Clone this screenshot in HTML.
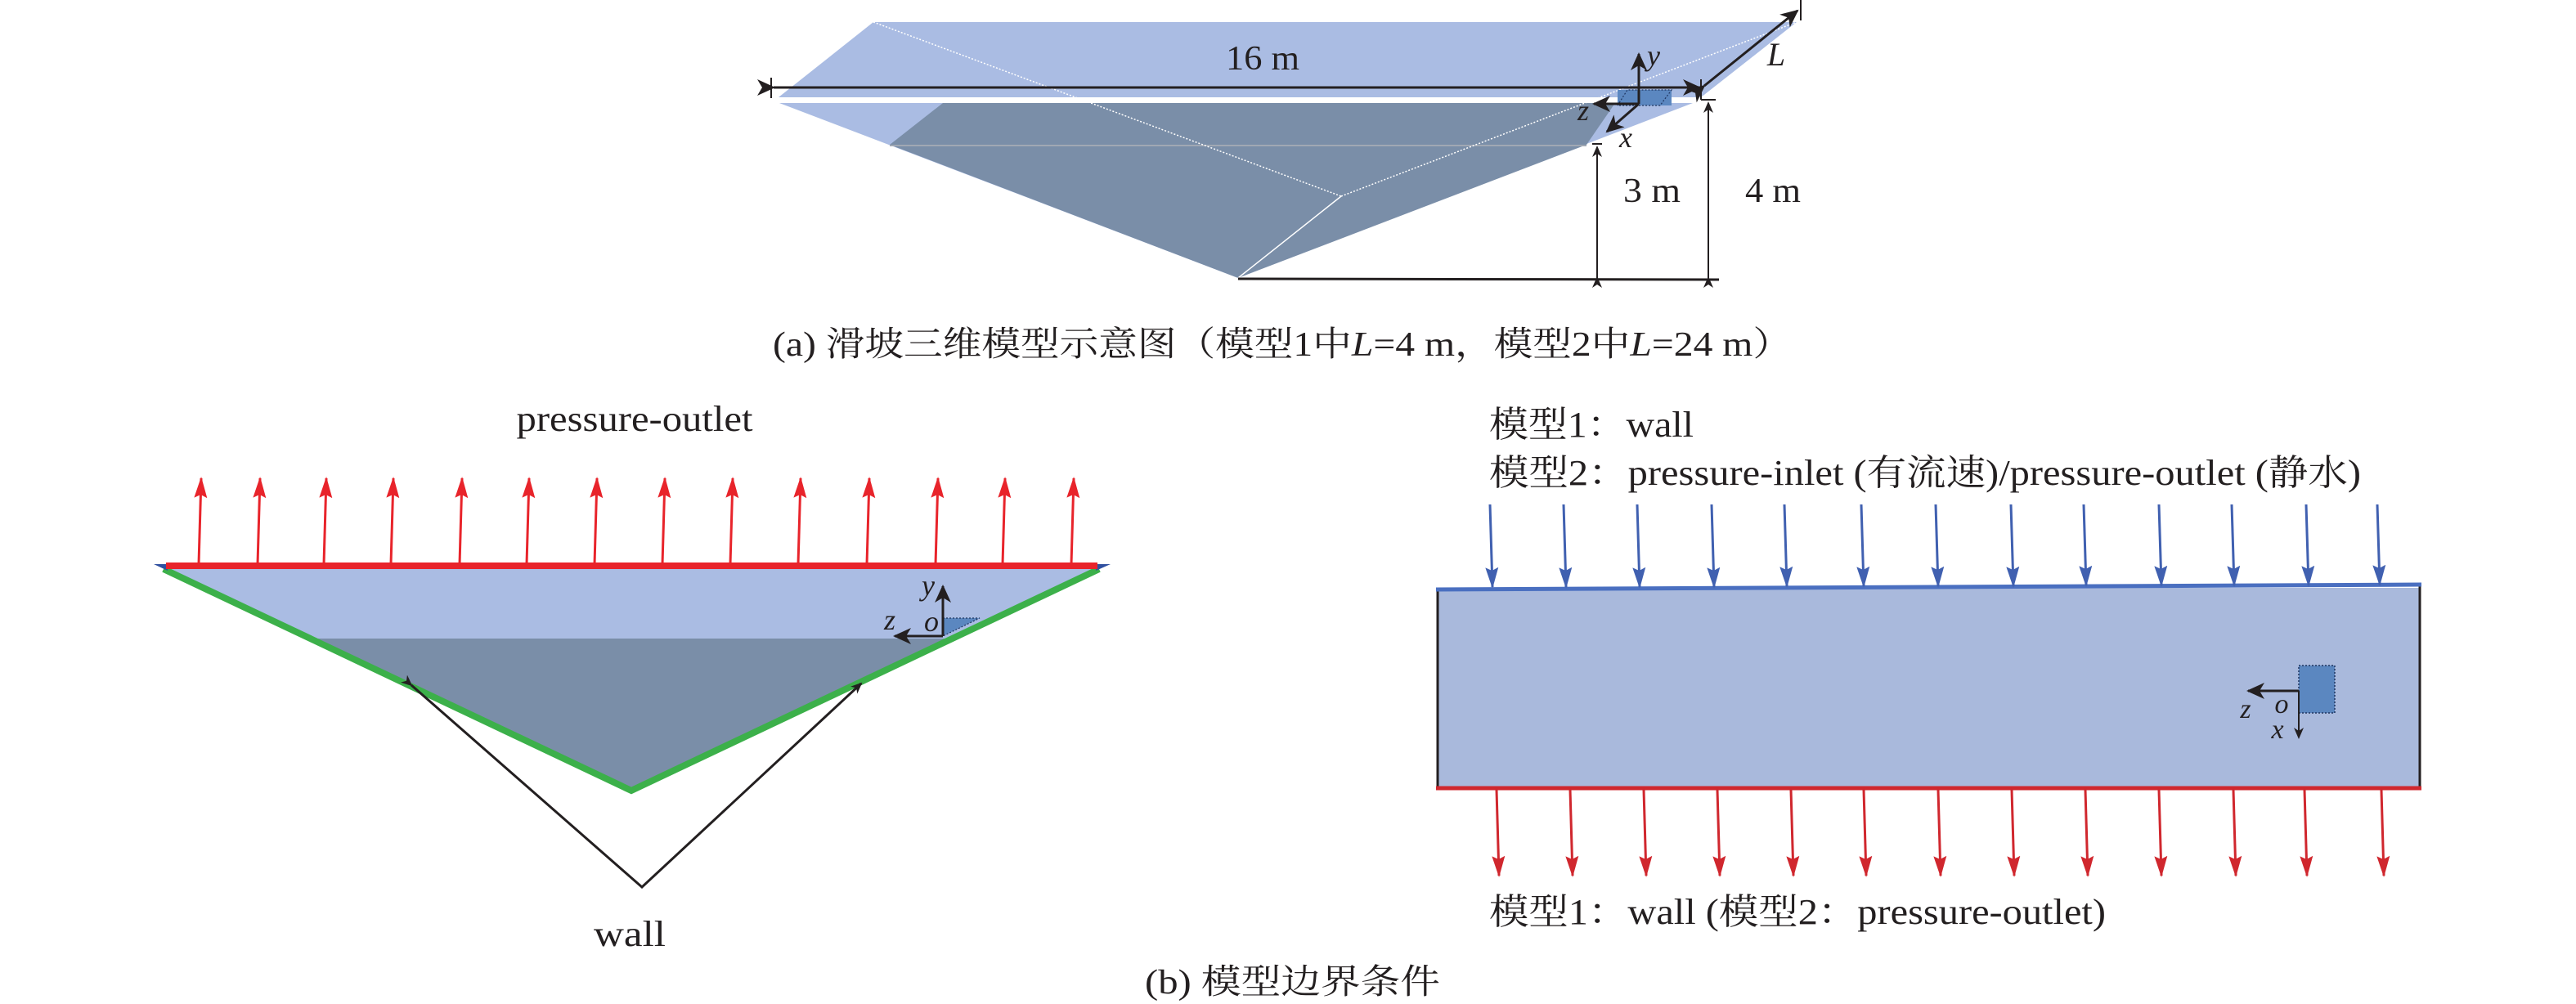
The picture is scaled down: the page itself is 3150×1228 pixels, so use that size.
<!DOCTYPE html>
<html><head><meta charset="utf-8"><style>
html,body{margin:0;padding:0;background:#fff;}
svg{display:block;}
text{font-family:"Liberation Serif","Noto Serif CJK SC","Noto Sans CJK SC",serif;fill:#231f20;}
</style></head><body>
<svg width="3150" height="1228" viewBox="0 0 3150 1228" xmlns="http://www.w3.org/2000/svg">
<defs>
<marker id="ak" markerWidth="14" markerHeight="12" refX="12" refY="6" orient="auto" markerUnits="userSpaceOnUse" viewBox="0 0 14 12"><path d="M0,0 L14,6 L0,12 L4,6 Z" fill="#231f20"/></marker>
<marker id="akb" markerWidth="22" markerHeight="20" refX="20" refY="10" orient="auto" markerUnits="userSpaceOnUse" viewBox="0 0 22 20"><path d="M0,0 L22,10 L0,20 L6,10 Z" fill="#231f20"/></marker>
<marker id="ar" markerWidth="26" markerHeight="16" refX="24" refY="8" orient="auto" markerUnits="userSpaceOnUse" viewBox="0 0 26 16"><path d="M0,0 L26,8 L0,16 L4,8 Z" fill="#e8242b"/></marker>
<marker id="ard" markerWidth="26" markerHeight="16" refX="24" refY="8" orient="auto" markerUnits="userSpaceOnUse" viewBox="0 0 26 16"><path d="M0,0 L26,8 L0,16 L4,8 Z" fill="#d0272e"/></marker>
<marker id="ab" markerWidth="26" markerHeight="16" refX="24" refY="8" orient="auto" markerUnits="userSpaceOnUse" viewBox="0 0 26 16"><path d="M0,0 L26,8 L0,16 L4,8 Z" fill="#4060b0"/></marker>
</defs>

<!-- (a) 3D model -->
<polygon points="1068,27 2197,27 2080,119 952,119" fill="#aabce3"/>
<polygon points="953,126 2070,126 1514,340" fill="#aabce3"/>
<polygon points="1153,126 1975,126 1940,177 1514,340 1088,177" fill="#7a8ea8"/>
<line x1="1088" y1="178" x2="1940" y2="178" stroke="#a0a8b4" stroke-width="2"/>
<line x1="1068" y1="27" x2="1640" y2="240" stroke="#fff" stroke-width="1.5" stroke-dasharray="2,2"/>
<line x1="1640" y1="240" x2="2197" y2="27" stroke="#fff" stroke-width="1.5" stroke-dasharray="2,2"/>
<line x1="1640" y1="240" x2="1514" y2="340" stroke="#fff" stroke-width="1.5"/>
<rect x="1978" y="110" width="66" height="19" fill="#5b87c0"/>
<polyline points="1978,129 1990,110 2044,110 2030,129 1978,129" fill="none" stroke="#1f3560" stroke-width="1.2" stroke-dasharray="2,2"/>
<line x1="943" y1="95" x2="943" y2="120" stroke="#231f20" stroke-width="2"/>
<line x1="946" y1="107" x2="2078" y2="107" stroke="#231f20" stroke-width="3" marker-start="url(#akb)" marker-end="url(#akb)"/>
<line x1="2080" y1="97" x2="2080" y2="122" stroke="#231f20" stroke-width="2"/>
<line x1="2080" y1="122" x2="2098" y2="122" stroke="#231f20" stroke-width="2"/>
<text x="1544" y="85" font-size="42" text-anchor="middle" textLength="90" lengthAdjust="spacingAndGlyphs">16 m</text>
<line x1="2084" y1="105" x2="2198" y2="13" stroke="#231f20" stroke-width="3" marker-start="url(#akb)" marker-end="url(#akb)"/>
<line x1="2202" y1="0" x2="2202" y2="25" stroke="#231f20" stroke-width="2"/>
<text x="2172" y="80" font-size="40" font-style="italic" text-anchor="middle">L</text>
<line x1="2004" y1="127" x2="2004" y2="66" stroke="#231f20" stroke-width="3" marker-end="url(#akb)"/>
<line x1="2004" y1="127" x2="1949" y2="127" stroke="#231f20" stroke-width="3" marker-end="url(#akb)"/>
<line x1="2004" y1="127" x2="1965" y2="161" stroke="#231f20" stroke-width="3" marker-end="url(#akb)"/>
<text x="2022" y="80" font-size="36" font-style="italic" text-anchor="middle">y</text>
<text x="1936" y="147" font-size="36" font-style="italic" text-anchor="middle">z</text>
<text x="1988" y="180" font-size="36" font-style="italic" text-anchor="middle">x</text>
<line x1="1947" y1="176" x2="1959" y2="176" stroke="#231f20" stroke-width="2"/>
<line x1="1953" y1="340" x2="1953" y2="180" stroke="#231f20" stroke-width="2" marker-start="url(#ak)" marker-end="url(#ak)"/>
<line x1="2089" y1="340" x2="2089" y2="126" stroke="#231f20" stroke-width="2" marker-start="url(#ak)" marker-end="url(#ak)"/>
<line x1="1514" y1="341" x2="2102" y2="342" stroke="#231f20" stroke-width="3"/>
<text x="2020" y="247" font-size="42" text-anchor="middle" textLength="70" lengthAdjust="spacingAndGlyphs">3 m</text>
<text x="2168" y="247" font-size="42" text-anchor="middle" textLength="68" lengthAdjust="spacingAndGlyphs">4 m</text>
<text x="945" y="435" font-size="42" textLength="1246" lengthAdjust="spacingAndGlyphs">(a) 滑坡三维模型示意图（模型1中<tspan font-style="italic">L</tspan>=4 m，模型2中<tspan font-style="italic">L</tspan>=24 m）</text>

<!-- (b) left -->
<text x="776" y="527" font-size="44" text-anchor="middle" textLength="289" lengthAdjust="spacingAndGlyphs">pressure-outlet</text>
<polygon points="200,694 1344,694 772,967" fill="#aabce3"/>
<polygon points="386,781 1156,781 772,967" fill="#7a8ea8"/>
<polygon points="1153,756 1198,756 1153,778" fill="#5b87c0" stroke="#1f3560" stroke-width="1.2" stroke-dasharray="2,2"/>
<polyline points="200,696 772,967 1344,696" fill="none" stroke="#3cb04a" stroke-width="8"/>
<polygon points="188,690 205,690 205,698" fill="#3050a0"/>
<polygon points="1340,690 1358,690 1340,698" fill="#3050a0"/>
<line x1="203" y1="692" x2="1342" y2="692" stroke="#e8242b" stroke-width="8"/>
<g stroke="#e8242b" stroke-width="3">
<line x1="243" y1="690" x2="246" y2="585" marker-end="url(#ar)"/>
<line x1="315" y1="690" x2="318" y2="585" marker-end="url(#ar)"/>
<line x1="396" y1="690" x2="399" y2="585" marker-end="url(#ar)"/>
<line x1="478" y1="690" x2="481" y2="585" marker-end="url(#ar)"/>
<line x1="562" y1="690" x2="565" y2="585" marker-end="url(#ar)"/>
<line x1="644" y1="690" x2="647" y2="585" marker-end="url(#ar)"/>
<line x1="727" y1="690" x2="730" y2="585" marker-end="url(#ar)"/>
<line x1="810" y1="690" x2="813" y2="585" marker-end="url(#ar)"/>
<line x1="893" y1="690" x2="896" y2="585" marker-end="url(#ar)"/>
<line x1="976" y1="690" x2="979" y2="585" marker-end="url(#ar)"/>
<line x1="1060" y1="690" x2="1063" y2="585" marker-end="url(#ar)"/>
<line x1="1144" y1="690" x2="1147" y2="585" marker-end="url(#ar)"/>
<line x1="1226" y1="690" x2="1229" y2="585" marker-end="url(#ar)"/>
<line x1="1310" y1="690" x2="1313" y2="585" marker-end="url(#ar)"/>
</g>
<line x1="1153" y1="778" x2="1153" y2="717" stroke="#231f20" stroke-width="3" marker-end="url(#akb)"/>
<line x1="1153" y1="778" x2="1094" y2="778" stroke="#231f20" stroke-width="3" marker-end="url(#akb)"/>
<text x="1135" y="728" font-size="36" font-style="italic" text-anchor="middle">y</text>
<text x="1088" y="770" font-size="36" font-style="italic" text-anchor="middle">z</text>
<text x="1139" y="772" font-size="36" font-style="italic" text-anchor="middle">o</text>
<polyline points="503,838 785,1085 1053,836" fill="none" stroke="#231f20" stroke-width="3" marker-start="url(#ak)" marker-end="url(#ak)"/>
<text x="770" y="1157" font-size="44" text-anchor="middle" textLength="88" lengthAdjust="spacingAndGlyphs">wall</text>

<!-- (b) right -->
<text x="1821" y="534" font-size="44" textLength="250" lengthAdjust="spacingAndGlyphs">模型1：wall</text>
<text x="1821" y="593" font-size="44" textLength="1066" lengthAdjust="spacingAndGlyphs">模型2：pressure-inlet (有流速)/pressure-outlet (静水)</text>
<rect x="1758" y="719" width="1201" height="245" fill="#a9b9dc"/>
<line x1="1758" y1="719" x2="1758" y2="964" stroke="#231f20" stroke-width="3"/>
<line x1="2959" y1="716" x2="2959" y2="964" stroke="#231f20" stroke-width="3"/>
<line x1="1756" y1="721" x2="2961" y2="715" stroke="#4a6fc0" stroke-width="5"/>
<line x1="1756" y1="964" x2="2961" y2="964" stroke="#d0272e" stroke-width="5"/>
<g stroke="#4060b0" stroke-width="3">
<line x1="1822" y1="617" x2="1825" y2="718" marker-end="url(#ab)"/>
<line x1="1912" y1="617" x2="1915" y2="718" marker-end="url(#ab)"/>
<line x1="2002" y1="617" x2="2005" y2="718" marker-end="url(#ab)"/>
<line x1="2093" y1="617" x2="2096" y2="718" marker-end="url(#ab)"/>
<line x1="2182" y1="617" x2="2185" y2="717" marker-end="url(#ab)"/>
<line x1="2276" y1="617" x2="2279" y2="717" marker-end="url(#ab)"/>
<line x1="2367" y1="617" x2="2370" y2="717" marker-end="url(#ab)"/>
<line x1="2459" y1="617" x2="2462" y2="717" marker-end="url(#ab)"/>
<line x1="2548" y1="617" x2="2551" y2="716" marker-end="url(#ab)"/>
<line x1="2640" y1="617" x2="2643" y2="716" marker-end="url(#ab)"/>
<line x1="2729" y1="617" x2="2732" y2="716" marker-end="url(#ab)"/>
<line x1="2820" y1="617" x2="2823" y2="716" marker-end="url(#ab)"/>
<line x1="2907" y1="617" x2="2910" y2="715" marker-end="url(#ab)"/>
</g>
<g stroke="#d0272e" stroke-width="3">
<line x1="1830" y1="966" x2="1833" y2="1071" marker-end="url(#ard)"/>
<line x1="1920" y1="966" x2="1923" y2="1071" marker-end="url(#ard)"/>
<line x1="2010" y1="966" x2="2013" y2="1071" marker-end="url(#ard)"/>
<line x1="2100" y1="966" x2="2103" y2="1071" marker-end="url(#ard)"/>
<line x1="2190" y1="966" x2="2193" y2="1071" marker-end="url(#ard)"/>
<line x1="2279" y1="966" x2="2282" y2="1071" marker-end="url(#ard)"/>
<line x1="2370" y1="966" x2="2373" y2="1071" marker-end="url(#ard)"/>
<line x1="2460" y1="966" x2="2463" y2="1071" marker-end="url(#ard)"/>
<line x1="2550" y1="966" x2="2553" y2="1071" marker-end="url(#ard)"/>
<line x1="2640" y1="966" x2="2643" y2="1071" marker-end="url(#ard)"/>
<line x1="2731" y1="966" x2="2734" y2="1071" marker-end="url(#ard)"/>
<line x1="2818" y1="966" x2="2821" y2="1071" marker-end="url(#ard)"/>
<line x1="2912" y1="966" x2="2915" y2="1071" marker-end="url(#ard)"/>
</g>
<rect x="2811" y="814" width="44" height="58" fill="#5b87c0" stroke="#1f3560" stroke-width="1.5" stroke-dasharray="2,2"/>
<line x1="2811" y1="845" x2="2749" y2="845" stroke="#231f20" stroke-width="3" marker-end="url(#akb)"/>
<line x1="2811" y1="845" x2="2811" y2="902" stroke="#231f20" stroke-width="2" marker-end="url(#ak)"/>
<text x="2746" y="878" font-size="34" font-style="italic" text-anchor="middle">z</text>
<text x="2790" y="872" font-size="34" font-style="italic" text-anchor="middle">o</text>
<text x="2785" y="903" font-size="34" font-style="italic" text-anchor="middle">x</text>
<text x="1821" y="1130" font-size="44" textLength="754" lengthAdjust="spacingAndGlyphs">模型1：wall (模型2：pressure-outlet)</text>
<text x="1400" y="1215" font-size="42" textLength="361" lengthAdjust="spacingAndGlyphs">(b) 模型边界条件</text>
</svg>
</body></html>
